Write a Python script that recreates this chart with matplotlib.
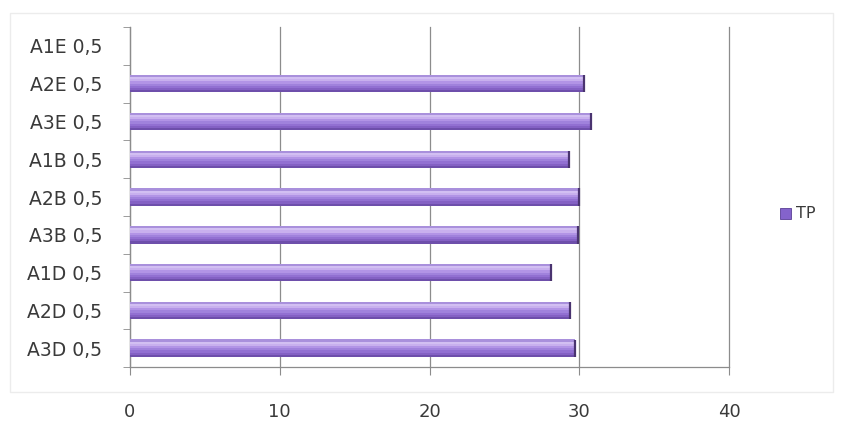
import numpy as np
import matplotlib.pyplot as plt
from matplotlib.patches import Rectangle

# categories listed bottom to top, as on the axis
categories = ['A3D 0,5', 'A2D 0,5', 'A1D 0,5', 'A3B 0,5', 'A2B 0,5',
              'A1B 0,5', 'A3E 0,5', 'A2E 0,5', 'A1E 0,5']
tp_values = [29.7, 29.4, 28.1, 29.9, 30.0, 29.3, 30.8, 30.3, 0.0]
x_ticks = [0, 10, 20, 30, 40]

TEXT = '#3a3a3a'
GRID = '#8c8c8c'
BAR_HEIGHT = 0.46

# vertical colour profile of one cylinder bar, top edge to bottom edge
profile = ['#a990dc', '#d2bff2', '#c8b0ee', '#b294e6', '#a082dc',
           '#9270d2', '#8461c4', '#6e4fab']

fig = plt.figure(figsize=(8.43, 4.22), dpi=100)
fig.patch.set_facecolor('white')
fig.add_artist(Rectangle((0.012, 0.07), 0.976, 0.9, transform=fig.transFigure,
                         fill=False, edgecolor='#ececec', linewidth=1.0))

ax = fig.add_axes([0.154, 0.130, 0.711, 0.806])
y = np.arange(len(categories))

# stack thin slices to give each bar a rounded, shaded look
n = len(profile)
slice_h = BAR_HEIGHT / n
for i, c in enumerate(profile):
    offset = BAR_HEIGHT / 2 - (i + 0.5) * slice_h
    ax.barh(y + offset, tp_values, height=slice_h * 1.05, color=c,
            linewidth=0, zorder=3)
# dark cap at the end of every bar
for yi, v in zip(y, tp_values):
    if v > 0:
        ax.plot([v, v], [yi - BAR_HEIGHT / 2, yi + BAR_HEIGHT / 2],
                color='#4a3470', linewidth=1.6, zorder=4, solid_capstyle='butt')

ax.set_xlim(0, 40)
ax.set_ylim(-0.5, len(categories) - 0.5)
ax.set_xticks(x_ticks)
ax.set_yticks(y)
ax.set_yticklabels(categories, fontsize=13.5, color=TEXT)
ax.set_yticks(np.arange(-0.5, len(categories), 1), minor=True)
ax.tick_params(axis='y', which='major', length=0, pad=20)
ax.tick_params(axis='y', which='minor', length=5, color=GRID, direction='out')
ax.tick_params(axis='x', length=6, color=GRID, pad=20, labelsize=13,
               labelcolor=TEXT)

ax.grid(axis='x', color=GRID, linewidth=0.9, zorder=0)
for gl in ax.get_xgridlines():
    gl.set_clip_on(False)
for side in ('top', 'right'):
    ax.spines[side].set_visible(False)
for side in ('left', 'bottom'):
    ax.spines[side].set_color(GRID)
    ax.spines[side].set_linewidth(0.9)

# legend entry
fig.add_artist(Rectangle((0.925, 0.480), 0.013, 0.028, transform=fig.transFigure,
                         facecolor='#8463cc', edgecolor='#5a3f96', linewidth=0.6))
fig.text(0.944, 0.494, 'TP', fontsize=11.5, color=TEXT, va='center', ha='left')

fig.savefig('out.png', dpi=100, facecolor='white')
